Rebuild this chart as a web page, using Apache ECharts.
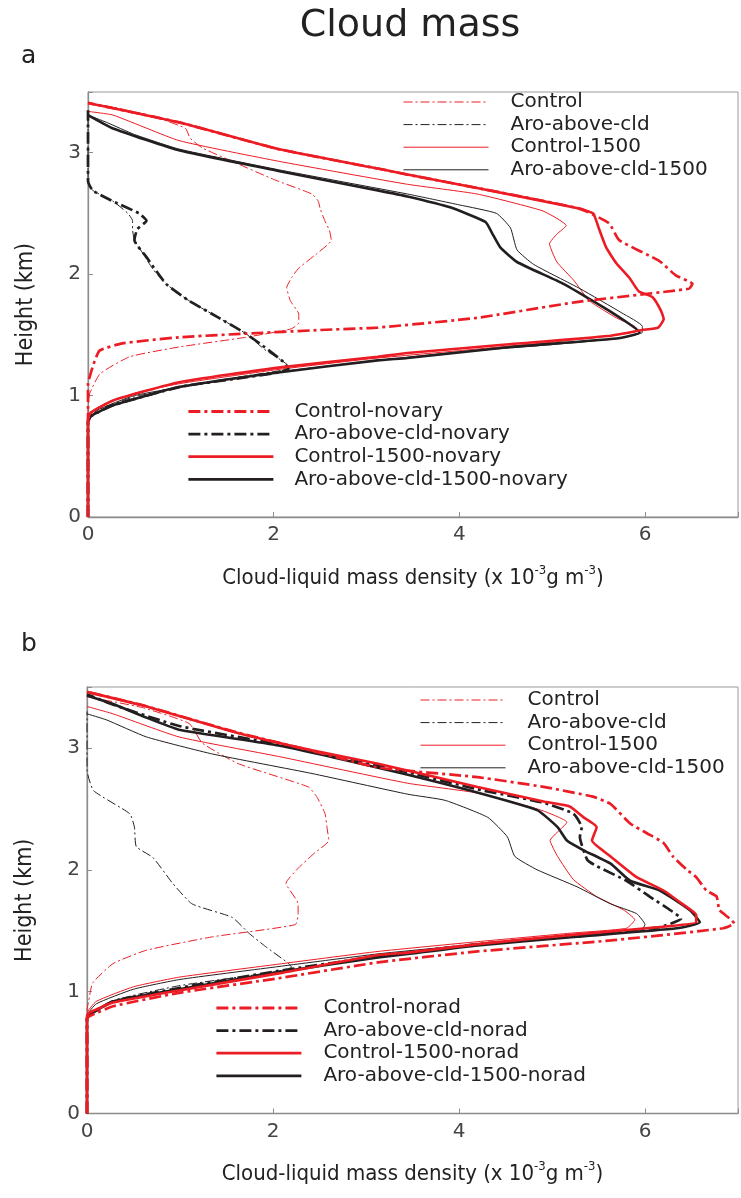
<!DOCTYPE html>
<html><head><meta charset="utf-8">
<script src="https://cdn.jsdelivr.net/npm/echarts@6/dist/echarts.min.js"></script>
<style>html,body{margin:0;padding:0;background:#fff}#c{width:741px;height:1198px}</style>
</head><body><div id="c"></div>
<script>
// ---------- data: [density (x1e-3 g m^-3), height (km)] ----------
const a_control = [[0,0],[0,0.9],[0.02,1.02],[0.13,1.18],[0.45,1.32],[0.98,1.4],[1.7,1.48],[2.19,1.55],[2.27,1.6],[2.27,1.67],[2.18,1.78],[2.14,1.89],[2.2,1.98],[2.27,2.05],[2.45,2.16],[2.62,2.28],[2.6,2.36],[2.55,2.44],[2.5,2.54],[2.48,2.6],[2.41,2.66],[2.0,2.78],[1.55,2.93],[1.23,3.04],[1.1,3.12],[1.05,3.2],[0.7,3.3],[0.3,3.37],[0,3.41]];
const a_aro = [[0,0],[0,0.78],[0.1,0.88],[0.5,0.99],[1.0,1.07],[1.6,1.15],[2.1,1.21],[2.16,1.24],[1.9,1.38],[1.7,1.51],[1.41,1.64],[1.09,1.78],[0.84,1.92],[0.7,2.04],[0.6,2.16],[0.5,2.28],[0.48,2.37],[0.48,2.44],[0.43,2.5],[0.27,2.6],[0.05,2.69],[0,2.76],[0,3.35]];
const a_ctl1500 = [[0,0],[0,0.8],[0.1,0.9],[0.5,1.02],[1.0,1.1],[2.0,1.21],[3.0,1.3],[4.0,1.37],[5.0,1.44],[5.6,1.49],[5.9,1.53],[5.9,1.56],[5.69,1.64],[5.4,1.78],[5.23,1.95],[5.05,2.1],[4.97,2.25],[5.05,2.33],[5.15,2.4],[4.9,2.52],[4.19,2.66],[3.44,2.74],[2.05,2.93],[0.98,3.1],[0.27,3.31],[0,3.34]];
const a_aro1500 = [[0,0],[0,0.78],[0.1,0.88],[0.5,1.0],[1.0,1.07],[2.0,1.19],[3.0,1.28],[4.0,1.36],[5.0,1.42],[5.7,1.47],[5.97,1.52],[5.97,1.57],[5.75,1.68],[5.3,1.88],[4.8,2.08],[4.62,2.2],[4.55,2.38],[4.4,2.5],[4.0,2.57],[3.44,2.66],[2.05,2.86],[0.98,3.03],[0.5,3.15],[0.2,3.25],[0,3.31]];
const a_ctlNovary = [[0,0],[0,1.1],[0.02,1.16],[0.06,1.26],[0.125,1.37],[0.37,1.43],[0.98,1.48],[1.7,1.51],[2.5,1.54],[3.12,1.56],[4.19,1.64],[5.26,1.77],[6.47,1.88],[6.51,1.92],[6.33,1.99],[6.15,2.11],[5.72,2.28],[5.61,2.42],[5.29,2.54],[4.19,2.71],[3.44,2.82],[3.12,2.87],[2.05,3.03],[0.98,3.25],[0,3.41]];
const a_aroNovary = [[0,0],[0,0.78],[0.03,0.83],[0.27,0.92],[0.98,1.07],[1.6,1.14],[2.05,1.19],[2.16,1.22],[2.1,1.28],[1.9,1.4],[1.7,1.51],[1.41,1.64],[1.09,1.78],[0.84,1.92],[0.63,2.14],[0.5,2.28],[0.53,2.37],[0.63,2.44],[0.55,2.5],[0.27,2.6],[0.05,2.69],[0,2.77],[0,3.35]];
const a_ctl1500Novary = [[0,0],[0,0.8],[0.03,0.86],[0.27,0.96],[0.98,1.11],[2.05,1.23],[3.12,1.32],[3.44,1.35],[4.5,1.42],[5.6,1.49],[5.97,1.54],[6.14,1.56],[6.2,1.63],[6.17,1.7],[6.08,1.81],[5.93,1.86],[5.83,1.97],[5.69,2.09],[5.58,2.22],[5.5,2.38],[5.44,2.5],[5.29,2.54],[4.19,2.71],[3.44,2.82],[3.12,2.87],[2.05,3.03],[0.98,3.25],[0,3.41]];
const a_aro1500Novary = [[0,0],[0,0.78],[0.03,0.83],[0.27,0.92],[0.98,1.07],[2.05,1.19],[3.12,1.29],[3.44,1.31],[4.55,1.4],[5.69,1.47],[5.94,1.52],[5.61,1.7],[5.12,1.92],[4.62,2.1],[4.44,2.22],[4.35,2.34],[4.28,2.43],[3.9,2.55],[3.44,2.64],[3.12,2.69],[2.05,2.85],[0.98,3.02],[0.27,3.2],[0,3.31]];

const b_control = [[0,0],[0,0.85],[0.02,0.93],[0.06,1.07],[0.28,1.23],[0.64,1.34],[1.35,1.45],[2.24,1.55],[2.27,1.64],[2.27,1.72],[2.14,1.89],[2.28,2.02],[2.45,2.14],[2.6,2.24],[2.58,2.35],[2.56,2.46],[2.47,2.6],[2.38,2.68],[1.63,2.87],[1.24,3.04],[1.1,3.2],[0.6,3.33],[0,3.42]];
const b_aro = [[0,0],[0,0.78],[0.3,0.93],[1.0,1.05],[2.0,1.16],[2.2,1.2],[2.17,1.23],[1.92,1.37],[1.74,1.48],[1.56,1.61],[1.13,1.72],[0.92,1.89],[0.71,2.1],[0.53,2.19],[0.51,2.35],[0.46,2.46],[0.07,2.65],[0,2.82],[0,3.3]];
const b_ctl1500 = [[0,0],[0,0.82],[0.1,0.92],[0.5,1.04],[1.0,1.12],[2.0,1.22],[3.13,1.33],[4.2,1.41],[5.2,1.48],[5.8,1.52],[5.89,1.59],[5.77,1.67],[5.48,1.78],[5.23,1.92],[5.06,2.11],[4.98,2.24],[5.16,2.39],[4.88,2.49],[4.2,2.63],[3.45,2.71],[2.06,2.93],[0.99,3.09],[0.28,3.28],[0,3.34]];
const b_aro1500 = [[0,0],[0,0.8],[0.1,0.9],[0.5,1.02],[1.0,1.1],[2.0,1.2],[3.13,1.31],[4.2,1.39],[5.2,1.46],[5.95,1.5],[6.0,1.55],[5.91,1.64],[5.63,1.72],[5.27,1.86],[4.84,2.0],[4.6,2.11],[4.52,2.27],[4.31,2.43],[3.85,2.57],[3.45,2.62],[2.42,2.79],[1.35,2.95],[0.64,3.09],[0.21,3.23],[0,3.28]];
const b_ctlNorad = [[0,0],[0,0.78],[0.03,0.8],[0.28,0.88],[0.99,0.99],[2.06,1.11],[3.13,1.24],[4.2,1.33],[5.63,1.42],[6.84,1.52],[6.96,1.56],[6.91,1.6],[6.8,1.67],[6.77,1.78],[6.66,1.83],[6.55,1.94],[6.45,2.0],[6.3,2.11],[6.2,2.22],[6.02,2.3],[5.84,2.38],[5.63,2.54],[5.44,2.6],[4.91,2.68],[4.2,2.76],[3.13,2.84],[2.4,2.98],[1.6,3.13],[0.6,3.35],[0,3.46]];
const b_aroNorad = [[0,0],[0,0.78],[0.03,0.81],[0.28,0.92],[0.99,1.03],[2.06,1.17],[3.13,1.29],[4.2,1.39],[5.27,1.46],[6.16,1.53],[6.39,1.6],[6.27,1.67],[6.05,1.78],[5.8,1.91],[5.48,2.03],[5.38,2.08],[5.3,2.27],[5.32,2.35],[5.23,2.46],[4.91,2.55],[4.2,2.66],[3.45,2.8],[2.06,3.03],[0.99,3.18],[0.3,3.35],[0,3.44]];
const b_ctl1500Norad = [[0,0],[0,0.8],[0.03,0.83],[0.28,0.91],[0.99,1.01],[2.06,1.15],[3.13,1.3],[3.45,1.32],[4.2,1.39],[5.27,1.47],[6.16,1.53],[6.55,1.57],[6.55,1.63],[6.4,1.72],[6.2,1.83],[5.91,1.94],[5.63,2.11],[5.43,2.24],[5.48,2.35],[5.34,2.43],[5.19,2.52],[4.91,2.56],[4.2,2.68],[3.13,2.87],[2.42,2.98],[1.63,3.12],[0.64,3.34],[0,3.46]];
const b_aro1500Norad = [[0,0],[0,0.78],[0.03,0.81],[0.28,0.92],[0.99,1.02],[2.06,1.16],[3.13,1.28],[3.45,1.31],[4.2,1.38],[5.27,1.45],[6.34,1.52],[6.59,1.57],[6.48,1.67],[6.16,1.83],[5.84,1.91],[5.63,2.05],[5.34,2.16],[5.16,2.24],[5.06,2.35],[4.84,2.49],[4.12,2.65],[3.45,2.78],[2.06,3.02],[0.99,3.15],[0.6,3.26],[0.28,3.36],[0,3.43]];

const namesThin = ['Control','Aro-above-cld','Control-1500','Aro-above-cld-1500'];
const namesA = ['Control-novary','Aro-above-cld-novary','Control-1500-novary','Aro-above-cld-1500-novary'];
const namesB = ['Control-norad','Aro-above-cld-norad','Control-1500-norad','Aro-above-cld-1500-norad'];
const xTickValues = [0,2,4,6];
const yTickValues = [0,1,2,3];

// ---------- styles ----------
const RED = '#ec1c24', BLK = '#231f20';
const DD_THIN = [9,3,2,3], DD_THICK = [12,4,3,4];
const styles = [
  {color:RED, width:1, type:DD_THIN, z:3},
  {color:BLK, width:1, type:DD_THIN, z:3},
  {color:RED, width:1, type:'solid', z:3},
  {color:BLK, width:1, type:'solid', z:3},
  {color:RED, width:2.7, type:DD_THICK, z:7},
  {color:BLK, width:2.7, type:DD_THICK, z:5},
  {color:RED, width:2.6, type:'solid', z:6},
  {color:BLK, width:2.6, type:'solid', z:4}
];
const dataA = [a_control,a_aro,a_ctl1500,a_aro1500,a_ctlNovary,a_aroNovary,a_ctl1500Novary,a_aro1500Novary];
const dataB = [b_control,b_aro,b_ctl1500,b_aro1500,b_ctlNorad,b_aroNorad,b_ctl1500Norad,b_aro1500Norad];
const allNamesA = namesThin.concat(namesA), allNamesB = namesThin.concat(namesB);

function mk(name, data, st, gi){
  return {name, type:'line', xAxisIndex:gi, yAxisIndex:gi, data, symbol:'none', showSymbol:false,
    smooth:0.15, color:st.color, itemStyle:{color:st.color},
    lineStyle:{color:st.color, width:st.width, type:st.type}, z:st.z, animation:false};
}
const series = [];
dataA.forEach((d,i)=>series.push(mk(allNamesA[i], d, styles[i], 0)));
dataB.forEach((d,i)=>series.push(mk(allNamesB[i], d, styles[i], 1)));

const FONT = 'DejaVu Sans';
const COND = "'DejaVu Sans Condensed','Liberation Sans Narrow','DejaVu Sans',sans-serif";
const AX = '#8c8c8c';

function xAx(gi){
  return {gridIndex:gi, type:'value', min:0, max:7, interval:2,
    axisLine:{show:true, onZero:false, lineStyle:{color:AX, width:1.3}},
    axisTick:{inside:true, length:5, lineStyle:{color:AX}},
    splitLine:{show:false},
    axisLabel:{fontFamily:FONT, fontSize:20, color:'#444', margin:8,
      formatter:v => xTickValues.includes(v) ? String(v) : ''},
    name:'Cloud-liquid mass density (x 10{s|-3}g m{s|-3})', nameLocation:'middle', nameGap:47,
    nameTextStyle:{fontFamily:COND, fontSize:22, color:'#222', lineHeight:28,
      rich:{s:{fontFamily:COND, fontSize:13, color:'#222', verticalAlign:'top', lineHeight:13}}}
  };
}
function yAx(gi){
  return {gridIndex:gi, type:'value', min:0, max:3.5, interval:1,
    axisLine:{show:true, onZero:false, lineStyle:{color:AX, width:1.3}},
    axisTick:{inside:true, length:5, lineStyle:{color:AX}},
    splitLine:{show:false},
    axisLabel:{fontFamily:FONT, fontSize:20, color:'#444', margin:7,
      formatter:v => yTickValues.includes(v) ? String(v) : ''},
    name:'Height (km)', nameLocation:'middle', nameGap:50,
    nameTextStyle:{fontFamily:COND, fontSize:23, color:'#222'}
  };
}
function leg(names, left, top, pad, lw){
  return {data:names, orient:'vertical', left, top, padding:0, itemWidth:85, itemHeight:12, itemGap:2.6,
    selectedMode:false, itemStyle:{opacity:0, borderWidth:0}, lineStyle:{width:lw},
    textStyle:{fontFamily:FONT, fontSize:20, color:'#222', lineHeight:20, padding:[0,0,0,pad]}};
}

const chart = echarts.init(document.getElementById('c'), null, {renderer:'canvas'});
chart.setOption({
  backgroundColor:'#fff',
  animation:false,
  grid:[
    {left:88, top:92, width:654.5, height:425, show:true, borderColor:'#999', borderWidth:1, backgroundColor:'transparent'},
    {left:87, top:687, width:654.5, height:426.5, show:true, borderColor:'#999', borderWidth:1, backgroundColor:'transparent'}
  ],
  xAxis:[xAx(0), xAx(1)],
  yAxis:[yAx(0), yAx(1)],
  legend:[
    leg(namesThin, 403, 92, 17, 1),
    leg(namesA, 187, 401.5, 16, 2.8),
    leg(namesThin, 420, 690, 17, 1),
    leg(namesB, 215, 998, 17, 2.8)
  ],
  graphic:[
    {type:'text', x:410, y:26, style:{text:'Cloud mass', fontFamily:FONT, fontSize:38, fill:'#222', textAlign:'center', textVerticalAlign:'middle'}},
    {type:'text', x:21, y:56, style:{text:'a', fontFamily:FONT, fontSize:25, fill:'#222', textVerticalAlign:'middle'}},
    {type:'text', x:21, y:644, style:{text:'b', fontFamily:FONT, fontSize:25, fill:'#222', textVerticalAlign:'middle'}}
  ],
  series
});
</script></body></html>
